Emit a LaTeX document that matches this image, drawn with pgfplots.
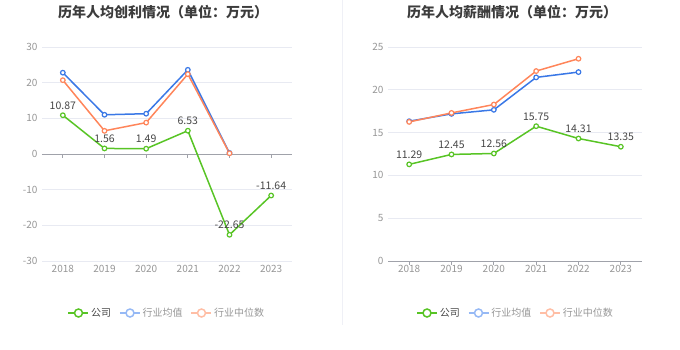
\documentclass[border=0pt]{standalone}
\usepackage{pgfplots}
\pgfplotsset{compat=1.18}
\usepackage{fontspec}
\setmainfont{Noto Sans CJK SC}
\definecolor{cgreen}{RGB}{88,196,37}
\definecolor{cblue}{RGB}{58,120,230}
\definecolor{corange}{RGB}{255,133,90}
\definecolor{lblue}{RGB}{150,185,245}
\definecolor{lorange}{RGB}{255,190,165}
\definecolor{gridc}{RGB}{232,234,242}
\definecolor{tickc}{RGB}{150,150,150}
\definecolor{axisc}{RGB}{160,162,170}
\definecolor{labc}{RGB}{70,70,70}
\definecolor{titc}{RGB}{60,60,60}
\pgfplotsset{
  base/.style={
    scale only axis, axis line style={draw=none},
    xmin=-0.5, xmax=5.5,
    xtick={0,1,2,3,4,5}, xticklabels={2018,2019,2020,2021,2022,2023},
    major tick length=0pt,
    ymajorgrids, grid style={gridc, line width=0.8pt},
    tick label style={font=\fontsize{10}{12}\selectfont, text=tickc},
    /pgf/number format/assume math mode=true,
    yticklabel style={xshift=-1pt},
    xticklabel style={yshift=-1pt},
    legend columns=3,
    legend style={draw=none, fill=none, font=\fontsize{10}{12}\selectfont,
      /tikz/every even column/.append style={column sep=6pt}},
    legend cell align=left,
    clip=false,
  },
  ser/.style={line width=1.5pt, mark=*, mark size=2.3pt, mark options={fill=white, line width=1.2pt}},
  lab/.style={nodes near coords, point meta=explicit symbolic,
    every node near coord/.append style={font=\fontsize{10.5}{12}\selectfont, text=labc, anchor=south, yshift=2pt}},
}
\newcommand{\legimg}[1]{\addlegendimage{#1, line width=1.5pt, legend image code/.code={
   \draw[#1, line width=1.5pt] (0pt,0pt) -- (20pt,0pt);
   \draw[#1, line width=1.5pt, fill=white] (10pt,0pt) circle (4pt);}}}
\newcommand{\zeroaxis}{%
  \draw[axisc, line width=1pt] (axis cs:-0.5,0) -- (axis cs:5.5,0);
  \pgfplotsinvokeforeach{0,...,5}{\draw[axisc, line width=1pt] (axis cs:##1,0) -- ([yshift=-4pt]axis cs:##1,0);}}
\begin{document}
\begin{tikzpicture}
\useasboundingbox (0pt,0pt) rectangle (680pt,349pt);
\draw[gridc!70, line width=0.8pt] (342pt,349pt) -- (342pt,24pt);
\node[font=\fontsize{14}{16}\selectfont\bfseries, text=titc] at (163pt,337pt) {历年人均创利情况（单位：万元）};
\node[font=\fontsize{14}{16}\selectfont\bfseries, text=titc] at (512pt,337pt) {历年人均薪酬情况（单位：万元）};
% Left
\begin{axis}[base, at={(42pt,88pt)}, anchor=south west, width=250pt, height=214pt,
  ymin=-30, ymax=30, ytick={-30,-20,...,30},
  legend style={at={(0.5,-0.243)}, anchor=center}]
\legimg{cgreen}
\addlegendentry{\textcolor{labc}{公司}}
\legimg{lblue}
\addlegendentry{\textcolor{tickc}{行业均值}}
\legimg{lorange}
\addlegendentry{\textcolor{tickc}{行业中位数}}
\zeroaxis
\addplot[ser, cblue, forget plot] coordinates {(0,22.8) (1,11.0) (2,11.3) (3,23.6) (4,0.3)};
\addplot[ser, corange, forget plot] coordinates {(0,20.7) (1,6.5) (2,8.8) (3,22.4) (4,0.2)};
\addplot[ser, cgreen, lab, forget plot] coordinates {(0,10.87)[10.87] (1,1.56)[1.56] (2,1.49)[1.49] (3,6.53)[6.53] (4,-22.65)[-22.65] (5,-11.64)[-11.64]};
\end{axis}
% Right
\begin{axis}[base, at={(388pt,88pt)}, anchor=south west, width=254pt, height=214pt,
  ymin=0, ymax=25, ytick={0,5,...,25},
  legend style={at={(0.502,-0.243)}, anchor=center}]
\legimg{cgreen}
\addlegendentry{\textcolor{labc}{公司}}
\legimg{lblue}
\addlegendentry{\textcolor{tickc}{行业均值}}
\legimg{lorange}
\addlegendentry{\textcolor{tickc}{行业中位数}}
\zeroaxis
\addplot[ser, cblue, forget plot] coordinates {(0,16.33) (1,17.19) (2,17.66) (3,21.45) (4,22.07)};
\addplot[ser, corange, forget plot] coordinates {(0,16.25) (1,17.3) (2,18.28) (3,22.19) (4,23.63)};
\addplot[ser, cgreen, lab, forget plot] coordinates {(0,11.29)[11.29] (1,12.45)[12.45] (2,12.56)[12.56] (3,15.75)[15.75] (4,14.31)[14.31] (5,13.35)[13.35]};
\end{axis}
\end{tikzpicture}
\end{document}
